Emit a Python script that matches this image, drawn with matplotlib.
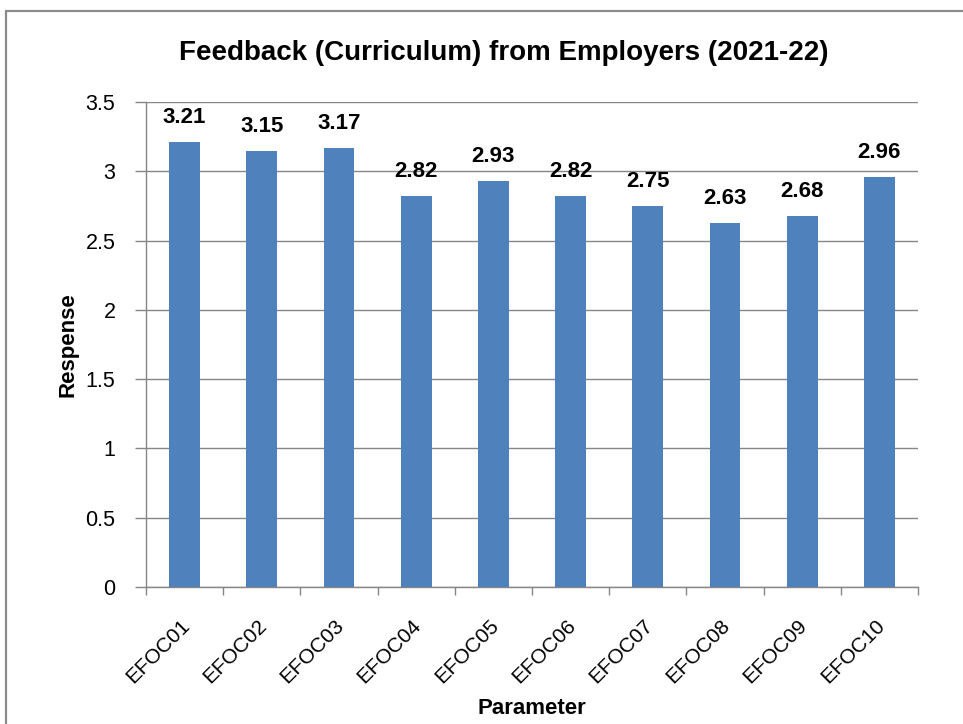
import numpy as np
import matplotlib.pyplot as plt
from matplotlib.patches import Rectangle
from matplotlib.ticker import FuncFormatter

plt.rcParams['font.family'] = ['Liberation Sans', 'DejaVu Sans']

params = ['EFOC01', 'EFOC02', 'EFOC03', 'EFOC04', 'EFOC05',
          'EFOC06', 'EFOC07', 'EFOC08', 'EFOC09', 'EFOC10']
scores = [3.21, 3.15, 3.17, 2.82, 2.93, 2.82, 2.75, 2.63, 2.68, 2.96]
yticks = [0, 0.5, 1, 1.5, 2, 2.5, 3, 3.5]

fig = plt.figure(figsize=(9.63, 7.24), dpi=100)
# outer chart border (right and bottom edges run off the picture)
fig.patches.append(Rectangle((6 / 963, -0.1), 1.0, 1.1 - 11 / 724,
                             transform=fig.transFigure, fill=False,
                             edgecolor='#8c8c8c', linewidth=1.6))

ax = fig.add_axes([146 / 963, 1 - 587 / 724, 772 / 963, 485 / 724])
x = np.arange(len(params))
bars = ax.bar(x, scores, width=0.4, color='#4F81BD', zorder=3)

for xi, v in zip(x, scores):
    ax.text(xi, v + 0.1, '%.2f' % v, ha='center', va='bottom',
            fontsize=16, fontweight='bold')

ax.set_xlim(-0.5, len(params) - 0.5)
ax.set_ylim(0, 3.5)
ax.set_yticks(yticks)
ax.yaxis.set_major_formatter(FuncFormatter(lambda v, p: '%g' % v))
ax.grid(axis='y', color='#868686', linewidth=1, zorder=0)

ax.set_xticks(x - 0.06)
ax.set_xticklabels(params, rotation=45, ha='right', rotation_mode='anchor',
                   fontsize=15)
ax.set_xticks(np.arange(-0.5, len(params)), minor=True)
ax.tick_params(axis='x', which='major', length=0, pad=21)
ax.tick_params(axis='x', which='minor', length=6, color='#868686', width=1)
ax.tick_params(axis='y', length=8, color='#868686', width=1, labelsize=15.5, pad=14)

for s in ['top', 'right']:
    ax.spines[s].set_visible(False)
for s in ['left', 'bottom']:
    ax.spines[s].set_color('#868686')
    ax.spines[s].set_linewidth(1)

ax.set_ylabel('Respense', fontsize=16, fontweight='bold', labelpad=5)
ax.set_xlabel('Parameter', fontsize=16, fontweight='bold', labelpad=8)
fig.text(504 / 963, 1 - 53 / 724, 'Feedback (Curriculum) from Employers (2021-22)',
         ha='center', va='center', fontsize=20, fontweight='bold')

plt.savefig('out.png', dpi=100)
